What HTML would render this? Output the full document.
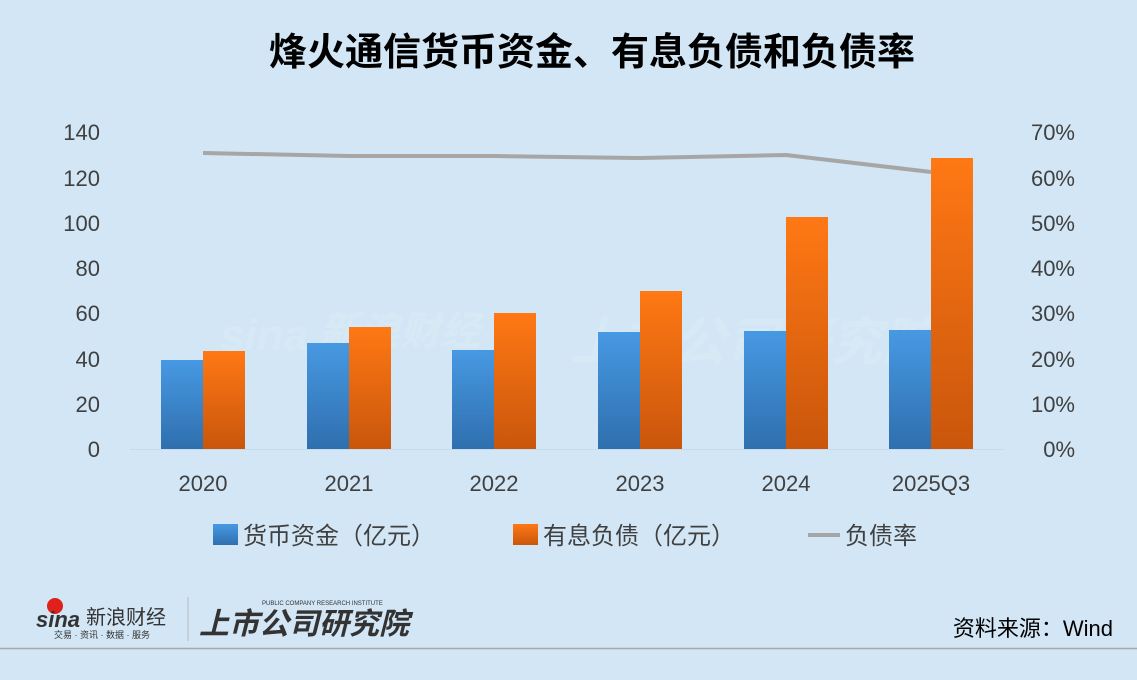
<!DOCTYPE html>
<html><head><meta charset="utf-8"><style>
body{margin:0;background:#d2e6f5;}
svg text{font-family:"Liberation Sans","Noto Sans CJK SC",sans-serif;}
</style></head><body>
<svg width="1137" height="675" viewBox="0 0 1137 675" xmlns="http://www.w3.org/2000/svg">
<defs>
<linearGradient id="gb" x1="0" y1="0" x2="0" y2="1"><stop offset="0" stop-color="#4799e3"/><stop offset="1" stop-color="#2f6fae"/></linearGradient>
<linearGradient id="go" x1="0" y1="0" x2="0" y2="1"><stop offset="0" stop-color="#ff7814"/><stop offset="1" stop-color="#c9560c"/></linearGradient>
</defs>
<rect width="1137" height="675" fill="#d2e6f5"/>
<text x="592" y="65" text-anchor="middle" font-size="38" font-weight="bold" fill="#000">烽火通信货币资金、有息负债和负债率</text>
<g font-size="22" fill="#404040" text-anchor="end">
<text x="100" y="457">0</text><text x="100" y="412">20</text><text x="100" y="367">40</text><text x="100" y="321">60</text><text x="100" y="276">80</text><text x="100" y="231">100</text><text x="100" y="186">120</text><text x="100" y="140">140</text>
</g>
<g font-size="22" fill="#404040" text-anchor="end">
<text x="1075" y="457">0%</text><text x="1075" y="412">10%</text><text x="1075" y="367">20%</text><text x="1075" y="321">30%</text><text x="1075" y="276">40%</text><text x="1075" y="231">50%</text><text x="1075" y="186">60%</text><text x="1075" y="140">70%</text>
</g>
<line x1="130" y1="449.5" x2="1004" y2="449.5" stroke="#c6dced" stroke-width="1"/>
<g opacity="0.15" fill="#ffffff" font-weight="bold" font-style="italic">
<text x="220" y="350" font-size="44">sina</text><text x="320" y="345" font-size="40">新浪财经</text>
<text x="570" y="360" font-size="52">上市公司研究院</text>
</g>
<g>
<rect x="161" y="360" width="42" height="89" fill="url(#gb)"/><rect x="203" y="351" width="42" height="98" fill="url(#go)"/>
<rect x="307" y="343" width="42" height="106" fill="url(#gb)"/><rect x="349" y="327" width="42" height="122" fill="url(#go)"/>
<rect x="452" y="350" width="42" height="99" fill="url(#gb)"/><rect x="494" y="313" width="42" height="136" fill="url(#go)"/>
<rect x="598" y="332" width="42" height="117" fill="url(#gb)"/><rect x="640" y="291" width="42" height="158" fill="url(#go)"/>
<rect x="744" y="331" width="42" height="118" fill="url(#gb)"/><rect x="786" y="217" width="42" height="232" fill="url(#go)"/>
<rect x="889" y="330" width="42" height="119" fill="url(#gb)"/><rect x="931" y="158" width="42" height="291" fill="url(#go)"/>
</g>
<polyline points="203,153 349,156 494,156 640,158 786,155 931,172" fill="none" stroke="#a6a6a6" stroke-width="4"/>
<g font-size="22" fill="#404040" text-anchor="middle">
<text x="203" y="491">2020</text><text x="349" y="491">2021</text><text x="494" y="491">2022</text><text x="640" y="491">2023</text><text x="786" y="491">2024</text><text x="931" y="491">2025Q3</text>
</g>
<g font-size="24" fill="#404040">
<rect x="213" y="524" width="25" height="21" fill="url(#gb)"/><text x="243" y="544">货币资金（亿元）</text>
<rect x="513" y="524" width="25" height="21" fill="url(#go)"/><text x="543" y="544">有息负债（亿元）</text>
<line x1="808" y1="535" x2="840" y2="535" stroke="#a6a6a6" stroke-width="4"/><text x="845" y="544">负债率</text>
</g>
<line x1="0" y1="648.5" x2="1137" y2="648.5" stroke="#a8a8a8" stroke-width="1.5"/>
<g fill="#333">
<circle cx="55" cy="606" r="8" fill="#e0201b"/>
<text x="36" y="627" font-size="22" font-weight="bold" font-style="italic">sina</text>
<text x="86" y="624" font-size="20">新浪财经</text>
<text x="54" y="638" font-size="9">交易 · 资讯 · 数据 · 服务</text>
<line x1="188" y1="597" x2="188" y2="641" stroke="#bbb"/>
<text x="199" y="634" font-size="30" font-weight="bold" font-style="italic">上市公司研究院</text>
<text x="262" y="605" font-size="6">PUBLIC COMPANY RESEARCH INSTITUTE</text>
</g>
<text x="1113" y="636" text-anchor="end" font-size="22" fill="#000">资料来源：Wind</text>
</svg>
</body></html>
